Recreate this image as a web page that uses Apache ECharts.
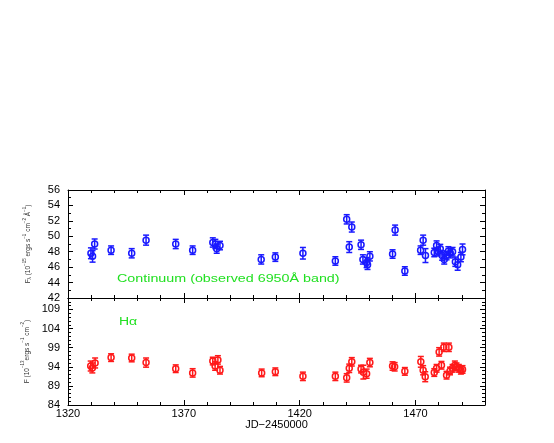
<!DOCTYPE html>
<html><head><meta charset="utf-8">
<script src="https://cdn.jsdelivr.net/npm/echarts@6/dist/echarts.min.js"></script>
<style>html,body{margin:0;padding:0;background:#fff}#c{width:554px;height:443px}</style>
</head><body><div id="c"></div>
<script>
// Continuum (observed 6950A band): JD-2450000, flux, error
const contJD   = [1329.9,1330.6,1331.5,1338.6,1347.5,1353.7,1366.5,1373.8,1382.5,1383.6,1384.2,1385.6,1403.4,1409.5,1421.4,1435.4,1440.3,1441.4,1442.5,1446.5,1447.3,1448.9,1449.3,1450.3,1460.1,1461.2,1465.4,1472.2,1473.3,1474.3,1478.1,1479.1,1479.8,1480.7,1481.5,1482.4,1483.4,1484.2,1485.0,1486.0,1487.2,1488.2,1489.6,1490.3];
const contFlux = [47.8,47.4,49.0,48.2,47.8,49.5,49.0,48.2,49.2,49.0,48.4,48.8,47.0,47.3,47.8,46.8,52.2,48.6,51.2,48.9,47.0,46.6,46.3,47.4,47.7,50.8,45.5,48.2,49.5,47.5,47.9,48.8,48.0,48.4,47.5,47.0,47.5,48.1,47.8,48.0,46.7,46.3,47.3,48.3];
const contErr  = [0.7,0.75,0.65,0.55,0.6,0.65,0.6,0.55,0.6,0.6,0.6,0.55,0.6,0.55,0.75,0.55,0.6,0.7,0.65,0.6,0.6,0.65,0.6,0.6,0.55,0.65,0.55,0.55,0.65,0.9,0.55,0.6,0.55,0.55,0.6,0.6,0.55,0.55,0.6,0.55,0.6,0.7,0.6,0.7];
// H-alpha: JD-2450000, flux, error
const haJD   = [1329.8,1330.5,1331.7,1338.6,1347.5,1353.7,1366.5,1373.8,1382.5,1383.5,1384.7,1385.6,1403.6,1409.5,1421.4,1435.4,1440.3,1441.4,1442.5,1446.5,1447.5,1448.9,1450.3,1460.1,1461.0,1465.4,1472.3,1473.3,1474.2,1478.1,1479.1,1480.2,1481.2,1482.2,1483.4,1484.4,1484.9,1486.0,1487.0,1487.7,1488.7,1489.6,1490.3];
const haFlux = [94.2,93.7,95.0,96.4,96.3,95.1,93.5,92.4,95.5,94.2,95.8,93.1,92.4,92.7,91.5,91.5,91.1,93.6,95.3,93.4,92.6,92.2,95.1,94.2,94.0,92.8,95.3,93.1,91.4,92.5,93.6,97.9,94.4,99.1,91.8,99.1,92.9,93.6,94.4,94.0,93.6,93.1,93.3];
const haErr  = [1.3,1.3,1.3,1.0,1.0,1.2,1.0,1.1,1.0,1.1,1.1,1.0,1.0,1.0,1.1,1.1,1.1,1.1,1.1,1.0,1.8,1.2,1.1,1.1,1.1,1.0,1.4,1.2,1.3,1.0,1.0,1.1,1.0,1.1,1.0,1.1,1.0,1.0,1.1,1.0,1.0,1.0,1.0];
// axis ranges / tick labels
const xMin = 1320, xMax = 1500, xMajor = 50, xMinor = 10;
const contYMin = 42, contYMax = 56, contYMajor = 2, contYMinor = 1;
const haYMin = 84, haYMax = 112, haYMajor = 5, haYMinor = 1;

const FONT = 'Liberation Sans';
const chart = echarts.init(document.getElementById('c'));

function xAx(g, pos, major, labels) {
  const a = {
    type: 'value', gridIndex: g, position: pos, min: xMin, max: xMax,
    interval: major ? xMajor : xMinor,
    axisLine: { show: !major, onZero: false, lineStyle: { color: '#000', width: 1 } },
    axisTick: { show: true, inside: true, length: major ? 5 : 3, lineStyle: { color: '#000', width: 1 } },
    axisLabel: { show: !!labels, margin: 3, color: '#000', fontFamily: FONT, fontSize: 11,
      formatter: v => ((v - xMin) % xMajor === 0 ? String(v) : '') },
    splitLine: { show: false }
  };
  if (labels) {
    a.name = 'JD\u22122450000';
    a.nameLocation = 'middle';
    a.nameGap = 14;
    a.nameTextStyle = { color: '#000', fontFamily: FONT, fontSize: 11 };
  }
  return a;
}
const richName = {
  b: { fontSize: 6.5, lineHeight: 10, verticalAlign: 'bottom', color: '#333', fontFamily: FONT },
  sup: { fontSize: 4.5, lineHeight: 5, verticalAlign: 'top', color: '#333', fontFamily: FONT },
  sub: { fontSize: 4.5, lineHeight: 5, verticalAlign: 'bottom', color: '#333', fontFamily: FONT }
};
function yAx(g, pos, major, mn, mx, maj, mnr, labels, name) {
  const a = {
    type: 'value', gridIndex: g, position: pos, min: mn, max: mx,
    interval: major ? maj : mnr,
    axisLine: { show: !major, onZero: false, lineStyle: { color: '#000', width: 1 } },
    axisTick: { show: true, inside: true, length: major ? 5 : 3, lineStyle: { color: '#000', width: 1 } },
    axisLabel: { show: !!labels, margin: 8, color: '#000', fontFamily: FONT, fontSize: 11,
      formatter: v => ((v - mn) % maj === 0 ? String(v) : '') },
    splitLine: { show: false }
  };
  if (name) {
    a.name = name;
    a.nameLocation = 'middle';
    a.nameGap = 36;
    a.nameTextStyle = { rich: richName };
  }
  return a;
}
function errRender(color) {
  return function (params, api) {
    const x = api.value(0), y = api.value(1), e = api.value(2);
    const p = api.coord([x, y]), lo = api.coord([x, y - e]), hi = api.coord([x, y + e]);
    const cw = 3, st = { stroke: color, lineWidth: 1.5, fill: null };
    return { type: 'group', children: [
      { type: 'line', shape: { x1: p[0], y1: lo[1], x2: p[0], y2: hi[1] }, style: st },
      { type: 'line', shape: { x1: p[0] - cw, y1: lo[1], x2: p[0] + cw, y2: lo[1] }, style: st },
      { type: 'line', shape: { x1: p[0] - cw, y1: hi[1], x2: p[0] + cw, y2: hi[1] }, style: st },
      { type: 'circle', shape: { cx: p[0], cy: p[1], r: 3 }, style: { stroke: color, lineWidth: 1.5, fill: 'none' } }
    ]};
  };
}
const contName = '{b|F}{sub|\u03bb}{b| (10}{sup|\u221215}{b| ergs s}{sup|\u22121}{b| cm}{sup|\u22122}{b| \u00c5}{sup|\u22121}{b|)}';
const haName = '{b|F (10}{sup|\u221213}{b|ergs s}{sup|\u22121}{b| cm}{sup|\u22122}{b|)}';

chart.setOption({
  animation: false,
  backgroundColor: '#fff',
  grid: [
    { left: 68, top: 190, width: 417, height: 108 },
    { left: 68, top: 298, width: 417, height: 107 }
  ],
  xAxis: [
    xAx(0, 'bottom', false, false), xAx(0, 'bottom', true, false), xAx(0, 'top', false, false), xAx(0, 'top', true, false),
    xAx(1, 'bottom', false, false), xAx(1, 'bottom', true, true), xAx(1, 'top', false, false), xAx(1, 'top', true, false)
  ],
  yAxis: [
    yAx(0, 'left', false, contYMin, contYMax, contYMajor, contYMinor, false),
    yAx(0, 'left', true, contYMin, contYMax, contYMajor, contYMinor, true, contName),
    yAx(0, 'right', false, contYMin, contYMax, contYMajor, contYMinor, false),
    yAx(0, 'right', true, contYMin, contYMax, contYMajor, contYMinor, false),
    yAx(1, 'left', false, haYMin, haYMax, haYMajor, haYMinor, false),
    yAx(1, 'left', true, haYMin, haYMax, haYMajor, haYMinor, true, haName),
    yAx(1, 'right', false, haYMin, haYMax, haYMajor, haYMinor, false),
    yAx(1, 'right', true, haYMin, haYMax, haYMajor, haYMinor, false)
  ],
  series: [
    { type: 'custom', xAxisIndex: 0, yAxisIndex: 0, renderItem: errRender('#1a1aff'),
      encode: { x: 0, y: 1 }, data: contJD.map((x, i) => [x, contFlux[i], contErr[i]]) },
    { type: 'custom', xAxisIndex: 4, yAxisIndex: 4, renderItem: errRender('#ff1a1a'),
      encode: { x: 0, y: 1 }, data: haJD.map((x, i) => [x, haFlux[i], haErr[i]]) }
  ],
  graphic: [
    { type: 'text', left: 117, top: 274.5, scaleX: 1.43,
      style: { text: 'Continuum (observed 6950\u00c5 band)', fill: '#22e022', fontSize: 10, fontFamily: FONT } },
    { type: 'text', left: 119, top: 317.5, scaleX: 1.4,
      style: { text: 'H\u03b1', fill: '#22e022', fontSize: 10, fontFamily: FONT } }
  ]
});
</script></body></html>
